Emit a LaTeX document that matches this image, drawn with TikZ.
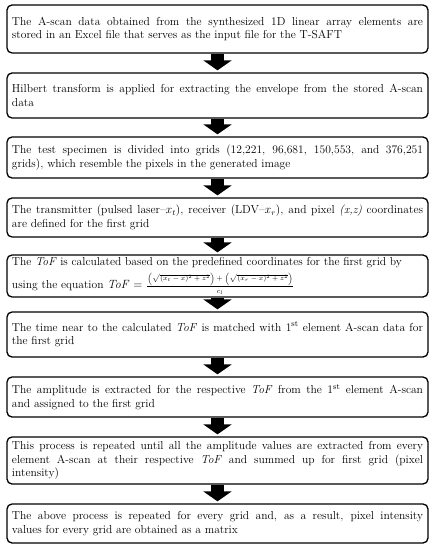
\documentclass[tikz,border=0pt]{standalone}
\usepackage{amsmath}
\usetikzlibrary{arrows.meta}
\tikzset{
  box/.style={draw, line width=1.3bp, rounded corners=5bp, text width=411bp, inner xsep=5bp, inner ysep=2bp,
    align=justify, font=\fontsize{11.6}{13.5}\selectfont, anchor=center},
  blockarrow/.style={line width=13bp, -{Triangle[width=28bp,length=10bp]}, shorten >=2bp}
}
\begin{document}
\begin{tikzpicture}[x=1bp,y=-1bp]
\useasboundingbox (0,0) rectangle (436,550);
\node[box, minimum height=48bp] (b1) at (217.5,29) {The A-scan data obtained from the synthesized 1D linear array elements are\linebreak stored in an Excel file that serves as the input file for the T-SAFT};
\node[box, minimum height=45bp] (b2) at (217.5,95.5) {Hilbert transform is applied for extracting the envelope from the stored A-scan\linebreak data};
\node[box, minimum height=41bp] (b3) at (217.5,157.5) {The test specimen is divided into grids (12,221, 96,681, 150,553, and 376,251\linebreak grids), which resemble the pixels in the generated image};
\node[box, minimum height=39bp] (b4) at (217.5,217.5) {The transmitter (pulsed laser--$x_t$), receiver (LDV--$x_r$), and pixel \textit{(x,z)} coordinates\linebreak are defined for the first grid};
\node[box, minimum height=42bp, inner ysep=0pt] (b5) at (217.5,276) {The \textit{ToF} is calculated based on the predefined coordinates for the first grid by\\[4bp]
using the equation $\mathit{ToF}=$ {\scriptsize$\dfrac{\left(\sqrt{(x_t-x)^2+z^2}\right)+\left(\sqrt{(x_r-x)^2+z^2}\right)}{c_l}$}};
\node[box, minimum height=45bp] (b6) at (217.5,334.5) {The time near to the calculated \textit{ToF} is matched with 1\textsuperscript{st} element A-scan data for\linebreak the first grid};
\node[box, minimum height=40bp] (b7) at (217.5,397) {The amplitude is extracted for the respective \textit{ToF} from the 1\textsuperscript{st} element A-scan\linebreak and assigned to the first grid};
\node[box, minimum height=47bp] (b8) at (217.5,460.5) {This process is repeated until all the amplitude values are extracted from every\linebreak element A-scan at their respective \textit{ToF} and summed up for first grid (pixel\linebreak intensity)};
\node[box, minimum height=39bp] (b9) at (217.5,523.5) {The above process is repeated for every grid and, as a result, pixel intensity\linebreak values for every grid are obtained as a matrix};
\foreach \a/\b in {b1/b2,b2/b3,b3/b4,b4/b5,b5/b6,b6/b7,b7/b8,b8/b9}
  \draw[blockarrow] (\a.south) -- (\b.north);
\end{tikzpicture}
\end{document}
